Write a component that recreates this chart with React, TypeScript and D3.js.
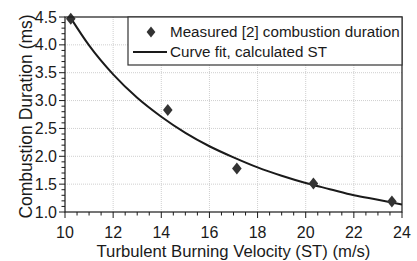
import React from "react";
import * as d3 from "d3";

const measuredX = [10.24, 14.27, 17.14, 20.32, 23.58];
const measuredY = [4.47, 2.83, 1.78, 1.51, 1.19];

const fitX = [10.24, 11, 12, 13, 14, 15, 16, 17, 18, 19, 20, 21, 22, 23, 24];
const fitY = [4.48, 3.99, 3.47, 3.05, 2.71, 2.42, 2.18, 1.98, 1.8, 1.65, 1.52, 1.41, 1.3, 1.22, 1.135];

const xTicks = [10, 12, 14, 16, 18, 20, 22, 24];
const yTicks = [1.0, 1.5, 2.0, 2.5, 3.0, 3.5, 4.0, 4.5];

const legendLabels = ["Measured [2] combustion duration", "Curve fit, calculated ST"];
const xTitle = "Turbulent Burning Velocity (ST) (m/s)";
const yTitle = "Combustion Duration (ms)";

const W = 417;
const H = 261;
const L = 65, R = 402, T = 17, B = 212;
const FONT = "Liberation Sans, Arial, sans-serif";
const INK = "#1a1a1a";

export default function App() {
  const x = d3.scaleLinear().domain([10, 24]).range([L, R]);
  const y = d3.scaleLinear().domain([1, 4.5]).range([B, T]);
  const xMinor = d3.range(10, 24.001, 0.5).filter((v) => Math.abs(v / 2 - Math.round(v / 2)) > 1e-6);
  const yMinor = d3.range(1, 4.5001, 0.1).filter((v) => Math.abs(v * 2 - Math.round(v * 2)) > 1e-6);
  const line = d3
    .line<number>()
    .x((_, i) => x(fitX[i]))
    .y((d) => y(d))
    .curve(d3.curveMonotoneX);
  const diamond = (cx: number, cy: number, r: number) =>
    `M${cx},${cy - r}L${cx + r * 0.8},${cy}L${cx},${cy + r}L${cx - r * 0.8},${cy}Z`;

  return (
    <svg width={W} height={H} style={{ position: "absolute", left: 0, top: 0 }} fontFamily={FONT}>
      <rect width={W} height={H} fill="#fff" />
      <defs>
        <clipPath id="plot">
          <rect x={L} y={T - 2} width={R - L} height={B - T + 2} />
        </clipPath>
      </defs>
      {/* grid */}
      {xTicks.slice(1, -1).map((v) => (
        <line key={"gx" + v} x1={x(v)} x2={x(v)} y1={T} y2={B} stroke="#cfcfcf" strokeDasharray="1,1" />
      ))}
      {yTicks.slice(1, -1).map((v) => (
        <line key={"gy" + v} x1={L} x2={R} y1={y(v)} y2={y(v)} stroke="#cfcfcf" strokeDasharray="1,1" />
      ))}
      {/* curve */}
      <path d={line(fitY) || ""} fill="none" stroke={INK} strokeWidth={2} clipPath="url(#plot)" />
      {/* markers */}
      {measuredX.map((v, i) => (
        <path key={"m" + i} d={diamond(x(v), y(measuredY[i]), 6)} fill="#333" />
      ))}
      {/* frame */}
      <rect x={L} y={T} width={R - L} height={B - T} fill="none" stroke={INK} strokeWidth={1.2} />
      {/* x ticks */}
      {xTicks.map((v) => (
        <g key={"xt" + v}>
          <line x1={x(v)} x2={x(v)} y1={B} y2={B + 6} stroke={INK} />
          <text x={x(v)} y={238} textAnchor="middle" fontSize={16} fill={INK}>
            {v}
          </text>
        </g>
      ))}
      {xMinor.map((v) => (
        <line key={"xm" + v} x1={x(v)} x2={x(v)} y1={B} y2={B + 3.5} stroke={INK} />
      ))}
      {/* y ticks */}
      {yTicks.map((v) => (
        <g key={"yt" + v}>
          <line x1={L - 6} x2={L} y1={y(v)} y2={y(v)} stroke={INK} />
          <text x={57} y={y(v) + 5.5} textAnchor="end" fontSize={16} fill={INK}>
            {v.toFixed(1)}
          </text>
        </g>
      ))}
      {yMinor.map((v) => (
        <line key={"ym" + v.toFixed(1)} x1={L - 3.5} x2={L} y1={y(v)} y2={y(v)} stroke={INK} />
      ))}
      {/* titles */}
      <text x={(98 + 369) / 2} y={256.5} textAnchor="middle" fontSize={16.7} fill={INK}>
        {xTitle}
      </text>
      <text
        transform={`translate(32,${(13 + 220) / 2}) rotate(-90)`}
        textAnchor="middle"
        fontSize={17.5}
        fill={INK}
      >
        {yTitle}
      </text>
      {/* legend */}
      <rect x={128} y={T} width={R - 128} height={48} fill="#fff" stroke="#333" strokeWidth={1.2} />
      <path d={diamond(151, 32, 5.5)} fill="#333" />
      <text x={170} y={37} fontSize={15.2} fill={INK}>
        {legendLabels[0]}
      </text>
      <line x1={133} x2={167} y1={52} y2={52} stroke={INK} strokeWidth={2} />
      <text x={170} y={57} fontSize={15.2} fill={INK}>
        {legendLabels[1]}
      </text>
    </svg>
  );
}
